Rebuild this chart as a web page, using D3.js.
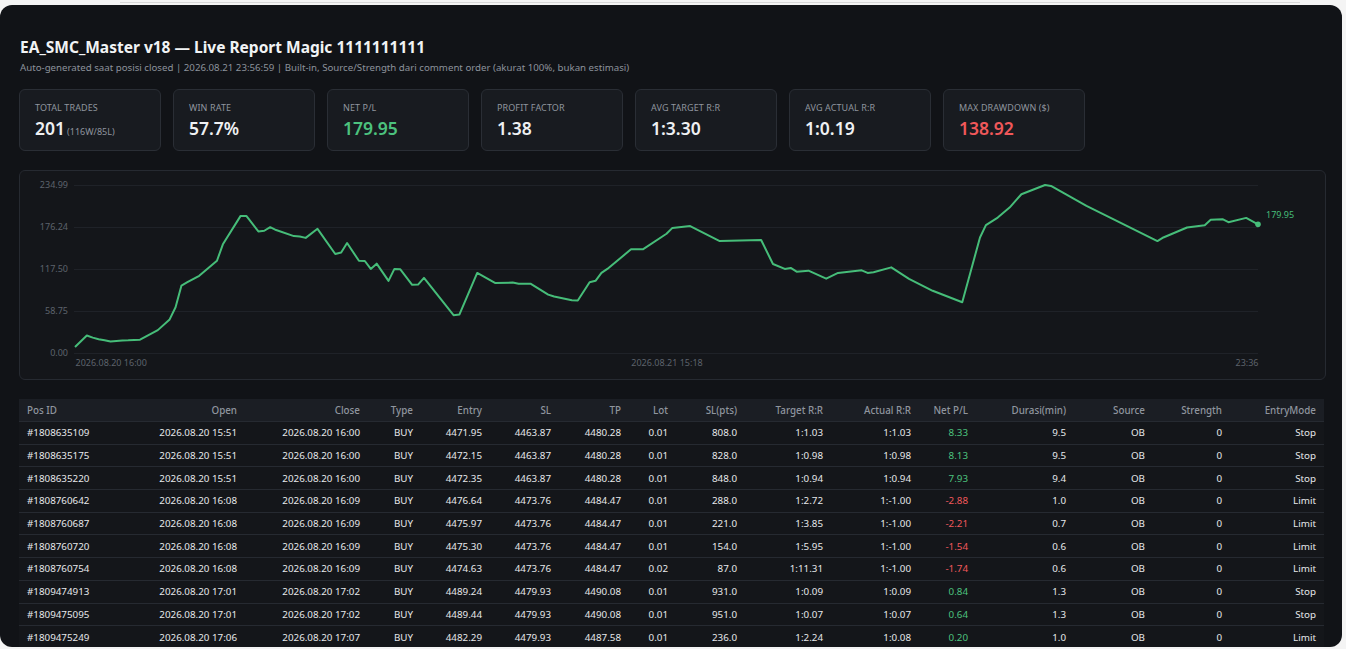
<!DOCTYPE html>
<html>
<head>
<meta charset="utf-8">
<script src="https://cdn.jsdelivr.net/npm/d3@7"></script>
<style>
  html, body { margin:0; padding:0; background:#f4f4f4; width:1346px; height:649px; overflow:hidden; }
  body { font-family: "Segoe UI", "Noto Sans", "Open Sans", sans-serif; }
  .topline { position:absolute; left:120px; top:2px; width:1180px; height:1px; background:#d8d8d8; }
  .panel { position:absolute; left:0; top:5px; width:1342px; height:642px; background:#111317; border-radius:12px; overflow:hidden; }
  .title { position:absolute; left:20px; top:31px; color:#f1f3f5; font-weight:700; font-size:15.5px; white-space:nowrap; }
  .subtitle { position:absolute; left:20px; top:56px; color:#8c929b; font-size:9.7px; white-space:nowrap; }
  .card { position:absolute; top:84px; width:142px; height:62px; background:#181b20; border:1px solid #2a2e35; border-radius:6px; box-sizing:border-box; }
  .card .lab { position:absolute; left:15px; top:11px; font-size:9px; color:#8f959e; letter-spacing:0.1px; white-space:nowrap; }
  .card .val { position:absolute; left:15px; top:26px; font-size:17.5px; font-weight:600; color:#eef0f2; white-space:nowrap; }
  .card .val .sub { font-size:9px; font-weight:400; color:#8f959e; margin-left:2px; }
  .chartbox { position:absolute; left:19px; top:165px; width:1307px; height:210px; background:#14161a; border:1px solid #262a31; border-radius:6px; box-sizing:border-box; }
  .tbl { position:absolute; left:19px; top:394px; width:1305px; border-collapse:collapse; table-layout:fixed; font-size:9.8px; }
  .tbl th { background:#1b1e24; color:#8f959e; font-weight:500; height:22px; padding:0 8px; text-align:right; white-space:nowrap; }
  .tbl td { color:#e6e8eb; height:21.7px; padding:0 8px; text-align:right; border-top:1px solid #262a31; white-space:nowrap; background:#14161a; }
  .tbl th:first-child, .tbl td:first-child { text-align:left; }
  .pos { color:#4cc27e !important; }
  .neg { color:#f0585a !important; }
  .axis text { font-family: "Segoe UI", "Noto Sans", sans-serif; font-size:9px; fill:#5d636c; }
</style>
</head>
<body>
<div class="topline"></div>
<div class="panel" id="panel">
  <div class="title" id="title"></div>
  <div class="subtitle" id="subtitle"></div>
  <div class="chartbox"><svg id="chart" width="1305" height="208"></svg></div>
</div>
<script>
// ---------- Header ----------
const titleText = "EA_SMC_Master v18 \u2014 Live Report Magic 1111111111";
const subtitleText = "Auto-generated saat posisi closed | 2026.08.21 23:56:59 | Built-in, Source/Strength dari comment order (akurat 100%, bukan estimasi)";

// ---------- KPI cards ----------
const kpiLabels = ["TOTAL TRADES", "WIN RATE", "NET P/L", "PROFIT FACTOR", "AVG TARGET R:R", "AVG ACTUAL R:R", "MAX DRAWDOWN ($)"];
const kpiValues = ["201", "57.7%", "179.95", "1.38", "1:3.30", "1:0.19", "138.92"];
const kpiSubs   = ["(116W/85L)", "", "", "", "", "", ""];
const kpiTone   = ["", "", "pos", "", "", "", "neg"];

// ---------- Equity curve (trade index, cumulative P/L) ----------
const eqTrade = [0,1,2,3,4,5,6,7,8,9,11,14,16,17,18,19,21,24,25,28,29,31,32,33,34,37,38,39,41,44,45,46,48,49,50,51,53,54,55,57,58,59,64,65,68,71,74,75,77,80,81,84,85,87,88,89,90,94,96,100,101,104,109,116,118,120,121,122,124,127,129,133,134,135,138,141,145,150,153,154,156,158,160,164,165,171,175,183,184,188,191,192,194,195,198,200];
const eqValue = [8.33,16.46,24.39,21.51,19.30,17.76,16.02,16.86,17.50,17.70,18.6,32,47,64,94.3,99,108,129,152,191.8,191.5,170,171,176,172,163.5,163,161,173.7,138.5,140.7,153.8,129,128.7,117.6,125,100.9,117.6,117,95.3,95.7,105,52.9,54,112,98,98.5,97,97,81.7,79,73.9,73.4,99,101,112,117.6,145,145,166.8,175,177.5,156.6,158,124.5,117.6,119,113.8,115.2,104,112,115.6,112,113,119.8,103.6,87,71,161.6,178.8,189.4,203.4,222,234.99,233.6,205.8,189.4,156.6,161.6,175.5,178.8,186.3,187.2,183,189,179.95];
const yMax = 234.99;
const xTickIdx = [0, 100, 200];
const xTickLabels = ["2026.08.20 16:00", "2026.08.21 15:18", "23:36"];
const lastLabel = "179.95";

// ---------- Table ----------
const colHeaders = ["Pos ID","Open","Close","Type","Entry","SL","TP","Lot","SL(pts)","Target R:R","Actual R:R","Net P/L","Durasi(min)","Source","Strength","EntryMode"];
const posIds   = ["#1808635109","#1808635175","#1808635220","#1808760642","#1808760687","#1808760720","#1808760754","#1809474913","#1809475095","#1809475249"];
const openT    = ["2026.08.20 15:51","2026.08.20 15:51","2026.08.20 15:51","2026.08.20 16:08","2026.08.20 16:08","2026.08.20 16:08","2026.08.20 16:08","2026.08.20 17:01","2026.08.20 17:01","2026.08.20 17:06"];
const closeT   = ["2026.08.20 16:00","2026.08.20 16:00","2026.08.20 16:00","2026.08.20 16:09","2026.08.20 16:09","2026.08.20 16:09","2026.08.20 16:09","2026.08.20 17:02","2026.08.20 17:02","2026.08.20 17:07"];
const types    = ["BUY","BUY","BUY","BUY","BUY","BUY","BUY","BUY","BUY","BUY"];
const entries  = ["4471.95","4472.15","4472.35","4476.64","4475.97","4475.30","4474.63","4489.24","4489.44","4482.29"];
const sls      = ["4463.87","4463.87","4463.87","4473.76","4473.76","4473.76","4473.76","4479.93","4479.93","4479.93"];
const tps      = ["4480.28","4480.28","4480.28","4484.47","4484.47","4484.47","4484.47","4490.08","4490.08","4487.58"];
const lots     = ["0.01","0.01","0.01","0.01","0.01","0.01","0.02","0.01","0.01","0.01"];
const slPts    = ["808.0","828.0","848.0","288.0","221.0","154.0","87.0","931.0","951.0","236.0"];
const targetRR = ["1:1.03","1:0.98","1:0.94","1:2.72","1:3.85","1:5.95","1:11.31","1:0.09","1:0.07","1:2.24"];
const actualRR = ["1:1.03","1:0.98","1:0.94","1:-1.00","1:-1.00","1:-1.00","1:-1.00","1:0.09","1:0.07","1:0.08"];
const netPL    = [8.33, 8.13, 7.93, -2.88, -2.21, -1.54, -1.74, 0.84, 0.64, 0.20];
const durasi   = ["9.5","9.5","9.4","1.0","0.7","0.6","0.6","1.3","1.3","1.0"];
const sources  = ["OB","OB","OB","OB","OB","OB","OB","OB","OB","OB"];
const strengths= ["0","0","0","0","0","0","0","0","0","0"];
const entryModes=["Stop","Stop","Stop","Limit","Limit","Limit","Limit","Stop","Stop","Limit"];

const panel = d3.select("#panel");
d3.select("#title").text(titleText);
d3.select("#subtitle").text(subtitleText);

// cards
kpiLabels.forEach((lab, i) => {
  const c = panel.append("div").attr("class", "card").style("left", (19 + i * 154) + "px");
  c.append("div").attr("class", "lab").text(lab);
  const v = c.append("div").attr("class", "val");
  v.append("span").attr("class", kpiTone[i]).text(kpiValues[i]);
  if (kpiSubs[i]) v.append("span").attr("class", "sub").text(kpiSubs[i]);
});

// chart
const svg = d3.select("#chart");
const x = d3.scaleLinear().domain([0, 200]).range([55, 1238]);
const y = d3.scaleLinear().domain([0, yMax]).range([182, 14]);
const yTicks = d3.range(5).map(k => yMax * k / 4);

const gy = svg.append("g").attr("class", "axis").attr("transform", "translate(" + x(0) + ",0)")
  .call(d3.axisLeft(y).tickValues(yTicks).tickFormat(d3.format(".2f")).tickSize(-(x(200) - x(0))).tickPadding(7));
gy.select(".domain").remove();
gy.selectAll(".tick line").attr("stroke", "#1f2228").attr("x1", -1);

const gx = svg.append("g").attr("class", "axis").attr("transform", "translate(0," + y(0) + ")")
  .call(d3.axisBottom(x).tickValues(xTickIdx).tickFormat((d, i) => xTickLabels[i]).tickSize(0).tickPadding(7));
gx.select(".domain").remove();
gx.selectAll(".tick text").attr("text-anchor", (d, i) => i === 0 ? "start" : (i === xTickIdx.length - 1 ? "end" : "middle"));

const pts = eqTrade.map((t, i) => [t, eqValue[i]]);
const line = d3.line().x(d => x(d[0])).y(d => y(d[1]));
svg.append("path").datum(pts).attr("d", line).attr("fill", "none")
  .attr("stroke", "#46bd79").attr("stroke-width", 2).attr("stroke-linejoin", "round");
const last = pts[pts.length - 1];
svg.append("circle").attr("cx", x(last[0])).attr("cy", y(last[1])).attr("r", 2.8).attr("fill", "#46bd79");
svg.append("text").attr("x", x(last[0]) + 8).attr("y", y(last[1]) - 9).attr("dy", "0.35em")
  .attr("fill", "#46bd79").style("font-size", "9px").style("font-family", "'Segoe UI','Noto Sans',sans-serif").text(lastLabel);

// table
const colW = [111,115,123,53,69,69,70,47,69,86,88,57,98,79,77,94];
const tbl = panel.append("table").attr("class", "tbl");
const cg = tbl.append("colgroup");
colW.forEach(w => cg.append("col").style("width", w + "px"));
tbl.append("thead").append("tr").selectAll("th").data(colHeaders).join("th").text(d => d);
const rows = posIds.map((p, i) => [p, openT[i], closeT[i], types[i], entries[i], sls[i], tps[i], lots[i], slPts[i], targetRR[i], actualRR[i], netPL[i], durasi[i], sources[i], strengths[i], entryModes[i]]);
tbl.append("tbody").selectAll("tr").data(rows).join("tr").selectAll("td").data(d => d).join("td")
  .attr("class", (d, j) => j === 11 ? (d >= 0 ? "pos" : "neg") : null)
  .text((d, j) => j === 11 ? d.toFixed(2) : d);
</script>
</body>
</html>
